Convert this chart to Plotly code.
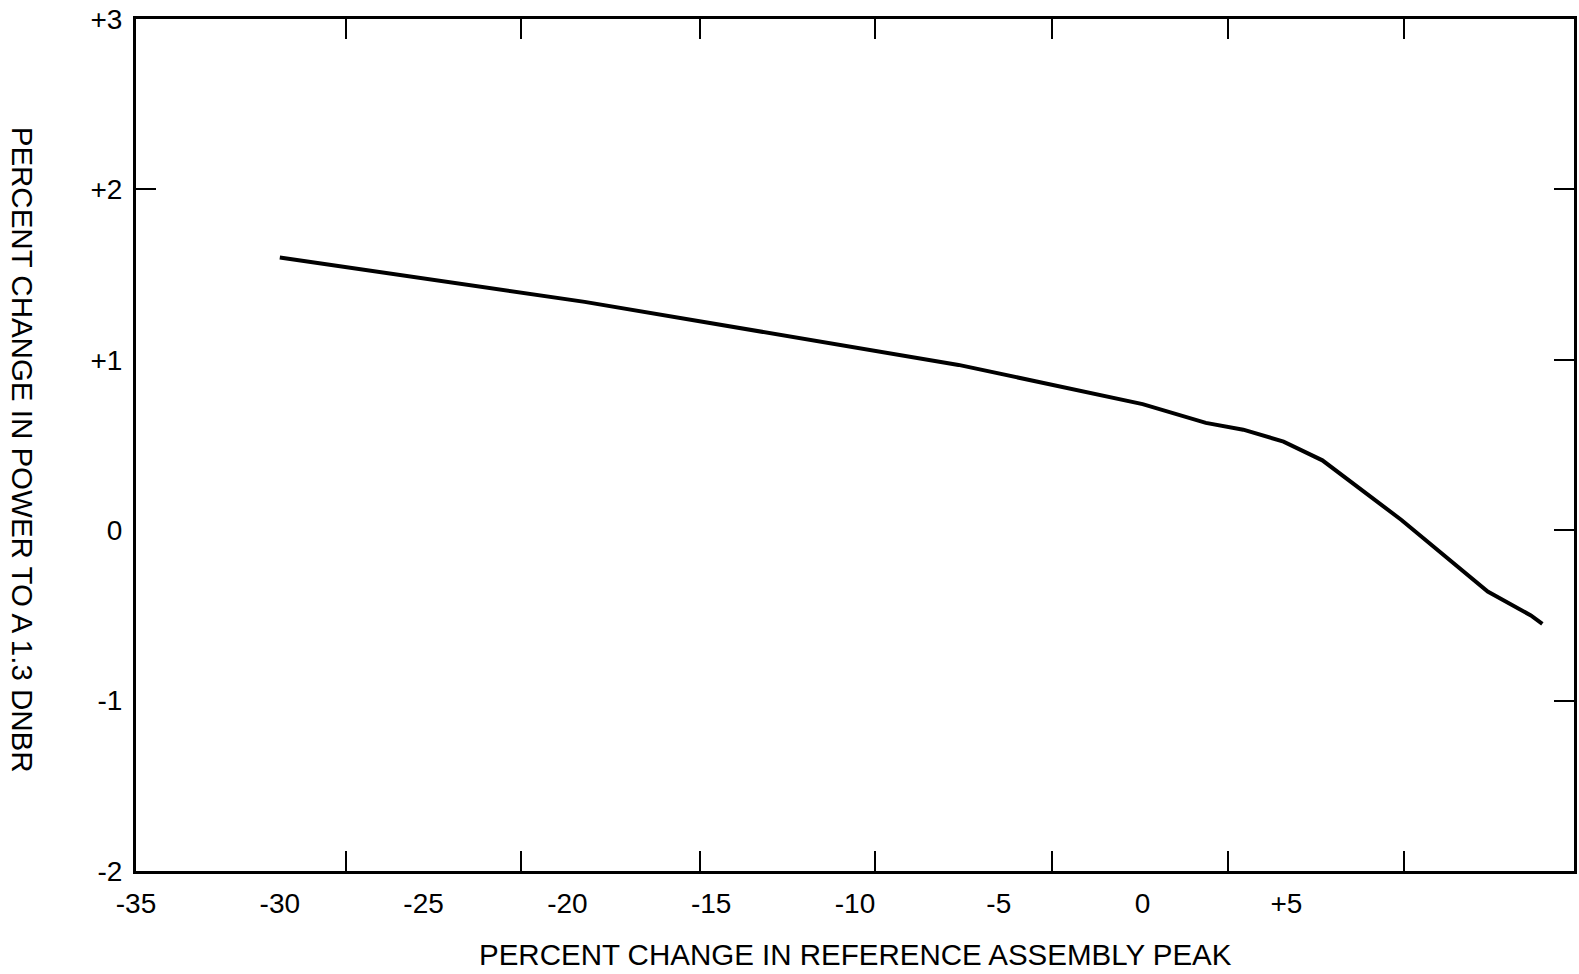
import plotly.graph_objects as go

# Curve data
x_change = [-30.0, -19.4, -6.4, 0.0, 2.2, 3.5, 4.9, 6.25, 9.0, 12.0, 13.5, 13.9]
power_change = [1.60, 1.34, 0.97, 0.74, 0.63, 0.59, 0.52, 0.41, 0.06, -0.36, -0.50, -0.55]

# Axis labels
x_label_vals = [-35, -30, -25, -20, -15, -10, -5, 0, 5]
x_label_text = ["-35", "-30", "-25", "-20", "-15", "-10", "-5", "0", "+5"]
y_label_vals = [3, 2, 1, 0, -1, -2]
y_label_text = ["+3", "+2", "+1", "0", "-1", "-2"]

# Tick mark positions (as drawn on the frame)
x_tick_marks = [-27.7, -21.6, -15.4, -9.3, -3.15, 2.97, 9.1]
y_right_ticks = [2, 1, 0, -1]
y_left_ticks = [2]

X_RANGE = [-35, 15]
Y_RANGE = [-2, 3]
FONT = "Liberation Sans, Arial, sans-serif"
TICK_SIZE = 28
TITLE_SIZE = 29.5

fig = go.Figure()
fig.add_trace(go.Scatter(x=x_change, y=power_change, mode="lines",
                         line=dict(color="black", width=4),
                         showlegend=False, hoverinfo="skip"))
# helper traces so the overlay axes get drawn
fig.add_trace(go.Scatter(x=[None], y=[None], xaxis="x2", yaxis="y2",
                         showlegend=False, hoverinfo="skip"))
fig.add_trace(go.Scatter(x=[None], y=[None], xaxis="x", yaxis="y3",
                         showlegend=False, hoverinfo="skip"))

axis_common = dict(showgrid=False, zeroline=False, linecolor="black",
                   linewidth=3, color="black")

fig.update_layout(
    width=1579, height=974,
    margin=dict(l=136, r=2, t=19, b=103),
    paper_bgcolor="white", plot_bgcolor="white",
    font=dict(family=FONT, color="black", size=TICK_SIZE),
    xaxis=dict(range=X_RANGE, tickvals=x_label_vals, ticktext=x_label_text,
               ticks="", showline=True, mirror=True, ticklabelstandoff=5,
               tickfont=dict(size=TICK_SIZE), **axis_common),
    xaxis2=dict(range=X_RANGE, overlaying="x", anchor="y2", side="bottom",
                tickvals=x_tick_marks, ticks="inside", ticklen=20, tickwidth=2,
                tickcolor="black", showticklabels=False, showline=True,
                mirror="ticks", **axis_common),
    yaxis=dict(range=Y_RANGE, tickvals=y_label_vals, ticktext=y_label_text,
               ticks="", showline=True, mirror=True, ticklabelstandoff=5,
               tickfont=dict(size=TICK_SIZE), **axis_common),
    yaxis2=dict(range=Y_RANGE, overlaying="y", anchor="x2", side="right",
                tickvals=y_right_ticks, ticks="inside", ticklen=20, tickwidth=2,
                tickcolor="black", showticklabels=False, showline=True,
                **axis_common),
    yaxis3=dict(range=Y_RANGE, overlaying="y", anchor="x", side="left",
                tickvals=y_left_ticks, ticks="inside", ticklen=20, tickwidth=2,
                tickcolor="black", showticklabels=False, showline=True,
                **axis_common),
    annotations=[
        dict(text="PERCENT CHANGE IN REFERENCE ASSEMBLY PEAK", xref="paper",
             yref="paper", x=0.5, y=-0.098, xanchor="center", yanchor="middle",
             showarrow=False, font=dict(size=TITLE_SIZE, family=FONT, color="black")),
        dict(text="PERCENT CHANGE IN POWER TO A 1.3 DNBR", xref="paper",
             yref="paper", x=-0.079, y=0.494, xanchor="center", yanchor="middle",
             textangle=90, showarrow=False,
             font=dict(size=TITLE_SIZE, family=FONT, color="black")),
    ],
)

fig.write_html("out.html",
               config={"displayModeBar": False},
               post_script="document.body.style.margin='0';"
                           "document.body.style.overflow='hidden';")
